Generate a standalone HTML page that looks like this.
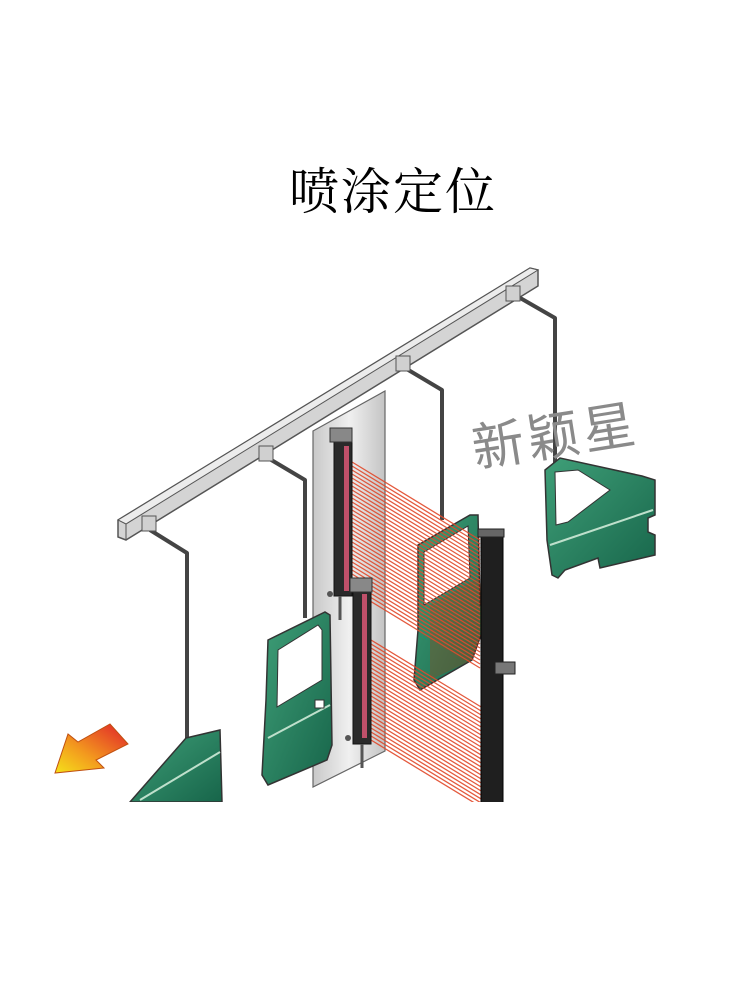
<!DOCTYPE html>
<html><head><meta charset="utf-8"><style>
html,body{margin:0;padding:0;background:#fff;}
.wrap{position:relative;width:750px;height:986px;overflow:hidden;background:#fff;}
.title{position:absolute;left:0;width:786px;top:152px;text-align:center;font-family:"Liberation Serif","Noto Serif CJK SC",serif;font-size:50px;letter-spacing:2px;color:#000;}
.wm{position:absolute;left:466px;top:408px;font-family:"Liberation Sans","Noto Sans CJK SC",sans-serif;font-size:52px;color:#8a8a8a;transform:rotate(-9deg);transform-origin:left top;letter-spacing:4px;}
svg{position:absolute;left:0;top:0;}
</style></head><body><div class="wrap">
<div class="title">喷涂定位</div>
<svg width="750" height="986" viewBox="0 0 750 986">
<defs>
<linearGradient id="g" x1="0" y1="0" x2="1" y2="1"><stop offset="0" stop-color="#3f9f78"/><stop offset="1" stop-color="#17654a"/></linearGradient>
<linearGradient id="pn" x1="0" y1="0" x2="1" y2="0"><stop offset="0" stop-color="#c8c8c8"/><stop offset=".5" stop-color="#f0f0f0"/><stop offset="1" stop-color="#c4c4c4"/></linearGradient>
<linearGradient id="ar" x1="1" y1="0" x2="0" y2="1"><stop offset="0" stop-color="#e0202a"/><stop offset=".6" stop-color="#f39a1e"/><stop offset="1" stop-color="#f5e21a"/></linearGradient>
<clipPath id="clip"><rect x="0" y="0" width="750" height="802"/></clipPath>
</defs>
<g clip-path="url(#clip)">
<!-- rail -->
<polygon points="118,520 530,268 538,270 538,286 126,540 118,537" fill="#d4d4d4" stroke="#555" stroke-width="1.5"/>
<polygon points="118,520 530,268 538,270 126,524" fill="#ececec" stroke="#555" stroke-width="1"/>
<line x1="126" y1="524" x2="126" y2="540" stroke="#555"/>
<!-- hangers -->
<g fill="none" stroke="#444" stroke-width="4" stroke-linejoin="round">
<polyline points="150,530 187,553 187,740"/>
<polyline points="268,458 305,480 305,618"/>
<polyline points="405,368 442,390 442,520"/>
<polyline points="515,295 555,318 555,468"/>
</g>
<g fill="#d0d0d0" stroke="#555" stroke-width="1">
<rect x="142" y="516" width="14" height="15"/><rect x="259" y="446" width="14" height="15"/><rect x="396" y="356" width="14" height="15"/><rect x="506" y="286" width="14" height="15"/>
</g>
<!-- panel -->
<polygon points="313,431 385,391 385,751 313,787" fill="url(#pn)" stroke="#666" stroke-width="1.2"/>
<!-- doors -->
<path d="M186,738 L220,730 L222,802 L130,802 Z" fill="url(#g)" stroke="#333" stroke-width="1.5"/>
<line x1="140" y1="800" x2="220" y2="752" stroke="#bfe0cc" stroke-width="2"/>
<path d="M545,470 L560,458 L642,476 L655,480 L655,515 L648,518 L648,532 L655,535 L655,555 L600,568 L598,558 L565,570 L558,578 L552,575 L547,540 Z" fill="url(#g)" stroke="#333" stroke-width="1.5"/>
<path d="M555,472 L578,470 L610,490 L568,522 L556,525 Z" fill="#fff" stroke="#333"/>
<line x1="550" y1="545" x2="653" y2="510" stroke="#bfe0cc" stroke-width="2"/>
<path d="M268,640 L325,612 L330,615 L332,745 L327,760 L268,785 L262,775 L266,700 Z" fill="url(#g)" stroke="#333" stroke-width="1.5"/>
<path d="M278,650 L318,625 L322,630 L322,680 L277,707 Z" fill="#fff" stroke="#333"/>
<line x1="268" y1="738" x2="330" y2="705" stroke="#bfe0cc" stroke-width="2"/>
<rect x="315" y="700" width="9" height="8" fill="#fff" stroke="#333"/>
<path d="M418,545 L470,515 L478,515 L480,605 L490,610 L472,660 L420,690 L414,680 L418,630 Z" fill="url(#g)" stroke="#333" stroke-width="1.5"/>
<path d="M424,552 L468,526 L470,578 L424,605 Z" fill="#fff" stroke="#333"/>
<polygon points="430,605 478,578 490,610 472,660 430,680" fill="#8a4a20" opacity=".4"/>
<!-- beams -->
<g stroke="#e2492a" stroke-width="1.3" opacity=".9">
<path d="M352,462 L480,540 M352,466 L480,544 M352,470 L480,548 M352,474 L480,552 M352,478 L480,556 M352,482 L480,560 M352,486 L480,564 M352,490 L480,568 M352,494 L480,572 M352,498 L480,576 M352,502 L480,580 M352,506 L480,584 M352,510 L480,588 M352,514 L480,592 M352,518 L480,596 M352,522 L480,600 M352,526 L480,604 M352,530 L480,608 M352,534 L480,612 M352,538 L480,616 M352,542 L480,620 M352,546 L480,624 M352,550 L480,628 M352,554 L480,632 M352,558 L480,636 M352,562 L480,640 M352,566 L480,644 M352,570 L480,648 M352,574 L480,652 M352,578 L480,656 M352,582 L480,660 M352,586 L480,664 M352,590 L480,668"/>
<path d="M371,640 L496,716 M371,644 L496,720 M371,648 L496,724 M371,652 L496,728 M371,656 L496,732 M371,660 L496,736 M371,664 L496,740 M371,668 L496,744 M371,672 L496,748 M371,676 L496,752 M371,680 L496,756 M371,684 L496,760 M371,688 L496,764 M371,692 L496,768 M371,696 L496,772 M371,700 L496,776 M371,704 L496,780 M371,708 L496,784 M371,712 L496,788 M371,716 L496,792 M371,720 L496,796 M371,724 L496,800 M371,728 L496,804 M371,732 L496,808 M371,736 L496,812 M371,740 L496,816"/>
</g>
<!-- sensors -->
<rect x="334" y="440" width="18" height="156" fill="#2a2a2a" stroke="#111"/>
<rect x="344" y="446" width="5" height="145" fill="#c0506a"/>
<rect x="330" y="428" width="22" height="14" fill="#888" stroke="#333"/>
<line x1="340" y1="596" x2="340" y2="620" stroke="#555" stroke-width="3"/>
<rect x="353" y="588" width="18" height="156" fill="#2a2a2a" stroke="#111"/>
<rect x="362" y="594" width="5" height="144" fill="#c0506a"/>
<rect x="350" y="578" width="22" height="14" fill="#888" stroke="#333"/>
<line x1="362" y1="744" x2="362" y2="768" stroke="#555" stroke-width="3"/>
<circle cx="330" cy="594" r="3" fill="#555"/><circle cx="348" cy="738" r="3" fill="#555"/>
<!-- right bar -->
<rect x="481" y="533" width="22" height="280" fill="#1f1f1f" stroke="#000"/>
<rect x="478" y="529" width="26" height="8" fill="#666" stroke="#222"/>
<rect x="495" y="662" width="20" height="12" fill="#777" stroke="#222"/>
<!-- arrow -->
<polygon points="55,773 68,734 78,742 110,724 128,744 96,760 104,768" fill="url(#ar)" stroke="#c05010" stroke-width="1"/>
</g>
</svg>
<div class="wm">新颖星</div>
</div></body></html>
